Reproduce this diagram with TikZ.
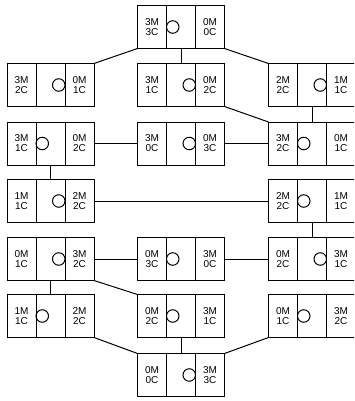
\documentclass[tikz,border=0pt]{standalone}
\usepackage{fontspec}
\setmainfont{Liberation Sans}
\usepackage{tikz}
\usetikzlibrary{positioning}
\tikzset{
  cell/.style={rectangle, draw, minimum width=29pt, minimum height=43pt,
    inner sep=0pt, outer sep=0pt, align=center, line width=1pt,
    font=\fontsize{10}{10}\selectfont},
  boat/.style={circle, draw, minimum size=12.5pt, inner sep=0pt,
    outer sep=0pt, line width=1pt},
  link/.style={line width=1pt}
}
% one state: name, x, y, left bank, right bank, side of the boat
\newcommand{\mcstate}[6]{%
  \node[cell] (#1-m) at (#2,#3) {};
  \node[cell, left=0pt of #1-m] (#1-l) {#4};
  \node[cell, right=0pt of #1-m] (#1-r) {#5};
  \node[boat, anchor=#6] (#1-b) at (#1-m.#6) {};
}

\begin{document}
\begin{tikzpicture}[x=1pt, y=1pt]
  \useasboundingbox (0,0) rectangle (354,-401);
  \clip (0,0) rectangle (354,-401);

  % States
  \mcstate{s1}{181}{-27}{3M\\3C}{0M\\0C}{west}
  \mcstate{s2l}{50.5}{-85}{3M\\2C}{0M\\1C}{east}
  \mcstate{s2m}{181}{-85}{3M\\1C}{0M\\2C}{east}
  \mcstate{s2r}{312}{-85}{2M\\2C}{1M\\1C}{east}
  \mcstate{s3l}{50.5}{-143.5}{3M\\1C}{0M\\2C}{west}
  \mcstate{s3m}{181}{-143.5}{3M\\0C}{0M\\3C}{east}
  \mcstate{s3r}{312}{-143.5}{3M\\2C}{0M\\1C}{west}
  \mcstate{s4l}{50.5}{-201}{1M\\1C}{2M\\2C}{east}
  \mcstate{s4r}{312}{-201}{2M\\2C}{1M\\1C}{west}
  \mcstate{s5l}{50.5}{-259}{0M\\1C}{3M\\2C}{east}
  \mcstate{s5m}{181}{-259}{0M\\3C}{3M\\0C}{west}
  \mcstate{s5r}{312}{-259}{0M\\2C}{3M\\1C}{east}
  \mcstate{s6l}{50.5}{-316}{1M\\1C}{2M\\2C}{west}
  \mcstate{s6m}{181}{-316}{0M\\2C}{3M\\1C}{west}
  \mcstate{s6r}{312}{-316}{0M\\1C}{3M\\2C}{west}
  \mcstate{s7}{181}{-375}{0M\\0C}{3M\\3C}{east}

  % Moves
  \draw[link] (s1-l.south west) -- (s2l-r.north east);
  \draw[link] (s1-m.south) -- (s2m-m.north);
  \draw[link] (s1-r.south east) -- (s2r-l.north west);
  \draw[link] (s2m-r.south east) -- (s3r-l.north west);
  \draw[link] (s2r-m.south) -- (s3r-m.north);
  \draw[link] (s3l-r.east) -- (s3m-l.west);
  \draw[link] (s3m-r.east) -- (s3r-l.west);
  \draw[link] (s3l-m.south) -- (s4l-m.north);
  \draw[link] (s4l-r.east) -- (s4r-l.west);
  \draw[link] (s4r-m.south) -- (s5r-m.north);
  \draw[link] (s5l-r.east) -- (s5m-l.west);
  \draw[link] (s5m-r.east) -- (s5r-l.west);
  \draw[link] (s5l-m.south) -- (s6l-m.north);
  \draw[link] (s5l-r.south east) -- (s6m-l.north west);
  \draw[link] (s6l-r.south east) -- (s7-l.north west);
  \draw[link] (s6m-m.south) -- (s7-m.north);
  \draw[link] (s6r-l.south west) -- (s7-r.north east);
\end{tikzpicture}
\end{document}
